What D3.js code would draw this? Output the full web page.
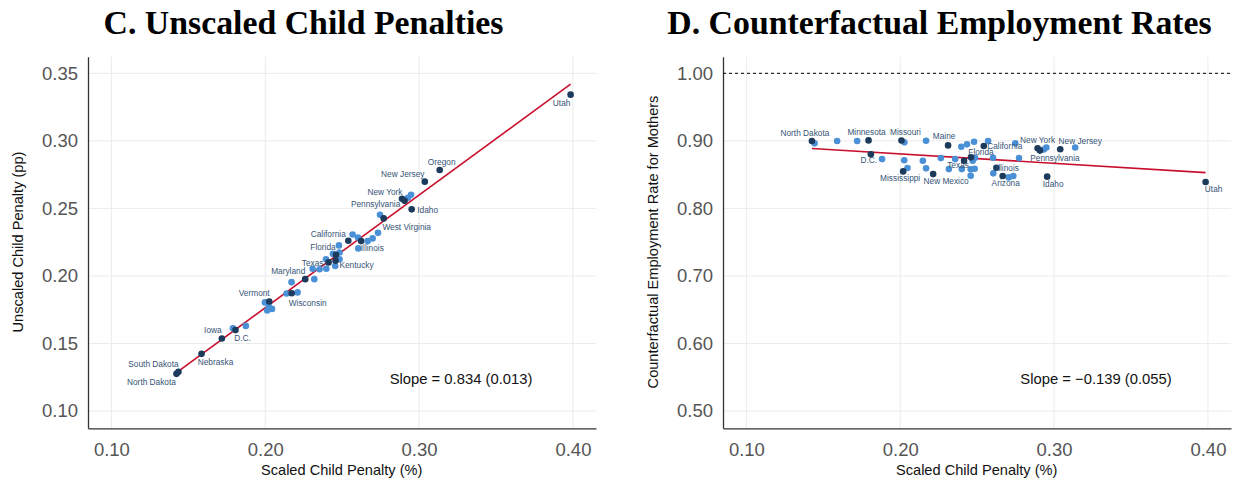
<!DOCTYPE html>
<html>
<head>
<meta charset="utf-8">
<script src="https://cdn.jsdelivr.net/npm/d3@7"></script>
<style>
  body { margin: 0; background: #fff; }
  svg { display: block; }
</style>
</head>
<body>
<svg id="chart" width="1241" height="481"></svg>
<script>
// tick values
var xTicks = [0.10, 0.20, 0.30, 0.40];
var yTicksC = [0.10, 0.15, 0.20, 0.25, 0.30, 0.35];
var yTicksD = [0.50, 0.60, 0.70, 0.80, 0.90, 1.00];

// [scaled penalty, unscaled penalty, dark?, label]
var pointsC = [
  [0.3985, 0.3342, 1, "Utah"],
  [0.3134, 0.2784, 1, "Oregon"],
  [0.3037, 0.2698, 1, "New Jersey"],
  [0.2889, 0.2571, 1, "New York"],
  [0.2906, 0.2556, 1, "Pennsylvania"],
  [0.2948, 0.2601, 0, ""],
  [0.2928, 0.2579, 0, ""],
  [0.2952, 0.2493, 1, "Idaho"],
  [0.2770, 0.2426, 1, "West Virginia"],
  [0.2746, 0.2453, 0, ""],
  [0.2568, 0.2307, 0, ""],
  [0.2540, 0.2260, 1, "California"],
  [0.2603, 0.2285, 0, ""],
  [0.2623, 0.2258, 1, ""],
  [0.2666, 0.2258, 0, ""],
  [0.2698, 0.2278, 0, ""],
  [0.2733, 0.2319, 0, ""],
  [0.2605, 0.2204, 0, "Illinois"],
  [0.2479, 0.2226, 0, ""],
  [0.2440, 0.2164, 0, ""],
  [0.2460, 0.2156, 1, "Florida"],
  [0.2483, 0.2174, 0, ""],
  [0.2483, 0.2124, 0, ""],
  [0.2457, 0.2112, 1, "Kentucky"],
  [0.2412, 0.2100, 1, "Texas"],
  [0.2395, 0.2124, 0, ""],
  [0.2455, 0.2073, 0, ""],
  [0.2397, 0.2053, 0, ""],
  [0.2353, 0.2050, 0, ""],
  [0.2308, 0.2053, 0, ""],
  [0.2260, 0.1976, 1, "Maryland"],
  [0.2319, 0.1976, 0, ""],
  [0.2171, 0.1954, 0, ""],
  [0.2172, 0.1872, 1, "Wisconsin"],
  [0.2139, 0.1870, 0, ""],
  [0.2210, 0.1878, 0, ""],
  [0.2026, 0.1811, 1, "Vermont"],
  [0.1998, 0.1804, 0, ""],
  [0.2013, 0.1744, 0, ""],
  [0.2044, 0.1756, 0, ""],
  [0.2024, 0.1771, 0, ""],
  [0.1790, 0.1613, 0, ""],
  [0.1807, 0.1599, 1, "D.C."],
  [0.1874, 0.1630, 0, ""],
  [0.1718, 0.1537, 1, "Iowa"],
  [0.1586, 0.1423, 1, "Nebraska"],
  [0.1436, 0.1290, 1, "South Dakota"],
  [0.1423, 0.1275, 1, "North Dakota"]
];

// [scaled penalty, counterfactual employment rate, dark?, label]
var pointsD = [
  [0.1426, 0.8997, 1, "North Dakota"],
  [0.1443, 0.8963, 0, ""],
  [0.1590, 0.8997, 0, ""],
  [0.1720, 0.8997, 0, ""],
  [0.1794, 0.9007, 1, "Minnesota"],
  [0.1809, 0.8800, 1, "D.C."],
  [0.1882, 0.8730, 0, ""],
  [0.2008, 0.9006, 1, "Missouri"],
  [0.2027, 0.8978, 0, ""],
  [0.2026, 0.8713, 0, ""],
  [0.2019, 0.8548, 1, "Mississippi"],
  [0.2047, 0.8597, 0, ""],
  [0.2168, 0.9001, 0, ""],
  [0.2147, 0.8705, 0, ""],
  [0.2168, 0.8593, 0, ""],
  [0.2214, 0.8508, 1, "New Mexico"],
  [0.2311, 0.8933, 1, "Maine"],
  [0.2264, 0.8745, 0, ""],
  [0.2316, 0.8582, 0, ""],
  [0.2357, 0.8730, 0, ""],
  [0.2397, 0.8913, 0, ""],
  [0.2434, 0.8948, 0, ""],
  [0.2480, 0.8987, 0, ""],
  [0.2415, 0.8705, 1, "Texas"],
  [0.2400, 0.8582, 0, ""],
  [0.2460, 0.8756, 1, "Florida"],
  [0.2486, 0.8750, 0, ""],
  [0.2471, 0.8705, 0, ""],
  [0.2458, 0.8578, 0, ""],
  [0.2484, 0.8587, 0, ""],
  [0.2458, 0.8483, 0, ""],
  [0.2543, 0.8923, 1, "California"],
  [0.2571, 0.8997, 0, ""],
  [0.2603, 0.8750, 0, ""],
  [0.2625, 0.8601, 1, "Illinois"],
  [0.2605, 0.8519, 0, ""],
  [0.2666, 0.8479, 1, "Arizona"],
  [0.2705, 0.8459, 0, ""],
  [0.2735, 0.8479, 0, ""],
  [0.2748, 0.8963, 0, ""],
  [0.2772, 0.8745, 0, ""],
  [0.2893, 0.8891, 1, "New York"],
  [0.2908, 0.8856, 1, "Pennsylvania"],
  [0.2933, 0.8871, 0, ""],
  [0.2950, 0.8901, 0, ""],
  [0.2955, 0.8470, 1, "Idaho"],
  [0.3040, 0.8876, 1, "New Jersey"],
  [0.3137, 0.8901, 0, ""],
  [0.3985, 0.8391, 1, "Utah"]
];

// fitted lines: [intercept, slope, std error]
var fitC = [0.0097, 0.834, 0.013];
var fitD = [0.9084, -0.139, 0.055];

// label nudges in pixels (layout only)
var nudgeC = {
  "Utah": [-9, 8], "Oregon": [2, -8], "New Jersey": [-22, -8], "New York": [-17, -7],
  "Pennsylvania": [-29, 3], "Idaho": [16, 1], "West Virginia": [23, 9],
  "California": [-20, -7], "Illinois": [14, 0], "Florida": [-13, -8],
  "Texas": [-16, 1], "Kentucky": [21, 4], "Maryland": [-17, -8],
  "Wisconsin": [16, 10], "Vermont": [-15, -8], "Iowa": [-9, -8], "D.C.": [7, 8],
  "Nebraska": [14, 8], "South Dakota": [-25, -8], "North Dakota": [-25, 8]
};
var nudgeD = {
  "North Dakota": [-7, -8], "Minnesota": [-2, -8], "Missouri": [4, -8],
  "Maine": [-4, -9], "California": [21, 0], "New York": [0, -8], "D.C.": [-2, 6],
  "Florida": [10, -5], "Texas": [-6, 4], "Mississippi": [-3, 7],
  "New Mexico": [13, 7], "Illinois": [11, 0], "Arizona": [3, 7], "Idaho": [6, 7],
  "Pennsylvania": [15, 7], "New Jersey": [20, -8], "Utah": [8, 7]
};

var DARK = "#1b3a5c", LIGHT = "#4a90d6", RED = "#c8102e", LABEL = "#365476";
var SANS = "'Liberation Sans', Arial, sans-serif";

var svg = d3.select("#chart");
var fmt = d3.format(".2f");

function drawPanel(cfg) {
  var g = svg.append("g");
  var left = cfg.left, right = cfg.left + 508, top = 56.7, bottom = 428.3;

  var x = d3.scaleLinear().domain([0.0848, 0.415]).range([left, right]);
  var y = d3.scaleLinear().domain(cfg.yDomain).range([bottom, top]);

  // grid
  g.selectAll(".gx").data(xTicks).enter().append("line")
    .attr("x1", function(d) { return x(d); }).attr("x2", function(d) { return x(d); })
    .attr("y1", top).attr("y2", bottom)
    .style("stroke", "#ebebeb").style("stroke-width", 1);
  g.selectAll(".gy").data(cfg.yTicks).enter().append("line")
    .attr("x1", left).attr("x2", right)
    .attr("y1", function(d) { return y(d); }).attr("y2", function(d) { return y(d); })
    .style("stroke", "#ebebeb").style("stroke-width", 1);

  // axes
  var xAxis = g.append("g").attr("transform", "translate(0," + bottom + ")")
    .call(d3.axisBottom(x).tickValues(xTicks).tickFormat(fmt).tickSize(0).tickPadding(10));
  var yAxis = g.append("g").attr("transform", "translate(" + left + ",0)")
    .call(d3.axisLeft(y).tickValues(cfg.yTicks).tickFormat(fmt).tickSize(0).tickPadding(10));
  [xAxis, yAxis].forEach(function(a) {
    a.select(".domain").style("stroke", "#333").style("stroke-width", 1.3);
    a.selectAll("text").style("font-family", SANS).style("font-size", "18.5px").style("fill", "#555");
  });
  xAxis.selectAll("text").attr("dy", "0.95em");

  if (cfg.refLine) {
    g.append("line")
      .attr("x1", left).attr("x2", right)
      .attr("y1", y(cfg.refLine)).attr("y2", y(cfg.refLine))
      .style("stroke", "#000").style("stroke-width", 1)
      .style("stroke-dasharray", "3,3");
  }

  // fit line
  var xs = d3.extent(cfg.points, function(d) { return d[0]; });
  var fit = cfg.fit;
  g.append("line")
    .attr("x1", x(xs[0])).attr("y1", y(fit[0] + fit[1] * xs[0]))
    .attr("x2", x(xs[1])).attr("y2", y(fit[0] + fit[1] * xs[1]))
    .style("stroke", RED).style("stroke-width", 1.6);

  // points: light first, dark on top
  var sorted = cfg.points.slice().sort(function(a, b) { return a[2] - b[2]; });
  g.selectAll(".pt").data(sorted).enter().append("circle")
    .attr("cx", function(d) { return x(d[0]); })
    .attr("cy", function(d) { return y(d[1]); })
    .attr("r", 3.3)
    .style("fill", function(d) { return d[2] ? DARK : LIGHT; });

  // state labels
  var labelled = cfg.points.filter(function(d) { return d[3] !== ""; });
  g.selectAll(".lab").data(labelled).enter().append("text")
    .attr("x", function(d) { return x(d[0]) + cfg.nudge[d[3]][0]; })
    .attr("y", function(d) { return y(d[1]) + cfg.nudge[d[3]][1]; })
    .attr("text-anchor", "middle")
    .attr("dominant-baseline", "central")
    .style("font-family", SANS).style("font-size", "8.3px").style("fill", LABEL)
    .text(function(d) { return d[3]; });

  // slope note
  var slopeTxt = "Slope = " + (fit[1] < 0 ? "\u2212" : "") + d3.format(".3f")(Math.abs(fit[1])) +
    " (" + d3.format(".3f")(fit[2]) + ")";
  g.append("text")
    .attr("x", left + 373).attr("y", 383.5)
    .attr("text-anchor", "middle")
    .style("font-family", SANS).style("font-size", "14.8px").style("fill", "#111")
    .text(slopeTxt);

  // axis titles
  g.append("text")
    .attr("x", left + 253.7).attr("y", 475)
    .attr("text-anchor", "middle")
    .style("font-family", SANS).style("font-size", "14.6px").style("fill", "#111")
    .text("Scaled Child Penalty (%)");
  g.append("text")
    .attr("transform", "translate(" + (left - 65) + ",242) rotate(-90)")
    .attr("text-anchor", "middle")
    .style("font-family", SANS).style("font-size", "14.6px").style("fill", "#111")
    .text(cfg.yTitle);

  // panel title
  g.append("text")
    .attr("x", cfg.titleX).attr("y", 33.5)
    .attr("text-anchor", "middle")
    .style("font-family", "'Liberation Serif', 'Times New Roman', serif")
    .style("font-weight", "bold").style("font-size", "33.8px").style("fill", "#000")
    .text(cfg.title);
}

drawPanel({
  left: 88, yDomain: [0.0872, 0.3623], yTicks: yTicksC, points: pointsC, fit: fitC,
  nudge: nudgeC, yTitle: "Unscaled Child Penalty (pp)",
  title: "C. Unscaled Child Penalties", titleX: 303.5
});
drawPanel({
  left: 723, yDomain: [0.4744, 1.0246], yTicks: yTicksD, points: pointsD, fit: fitD,
  nudge: nudgeD, yTitle: "Counterfactual Employment Rate for Mothers", refLine: 1.00,
  title: "D. Counterfactual Employment Rates", titleX: 939.5
});
</script>
</body>
</html>
